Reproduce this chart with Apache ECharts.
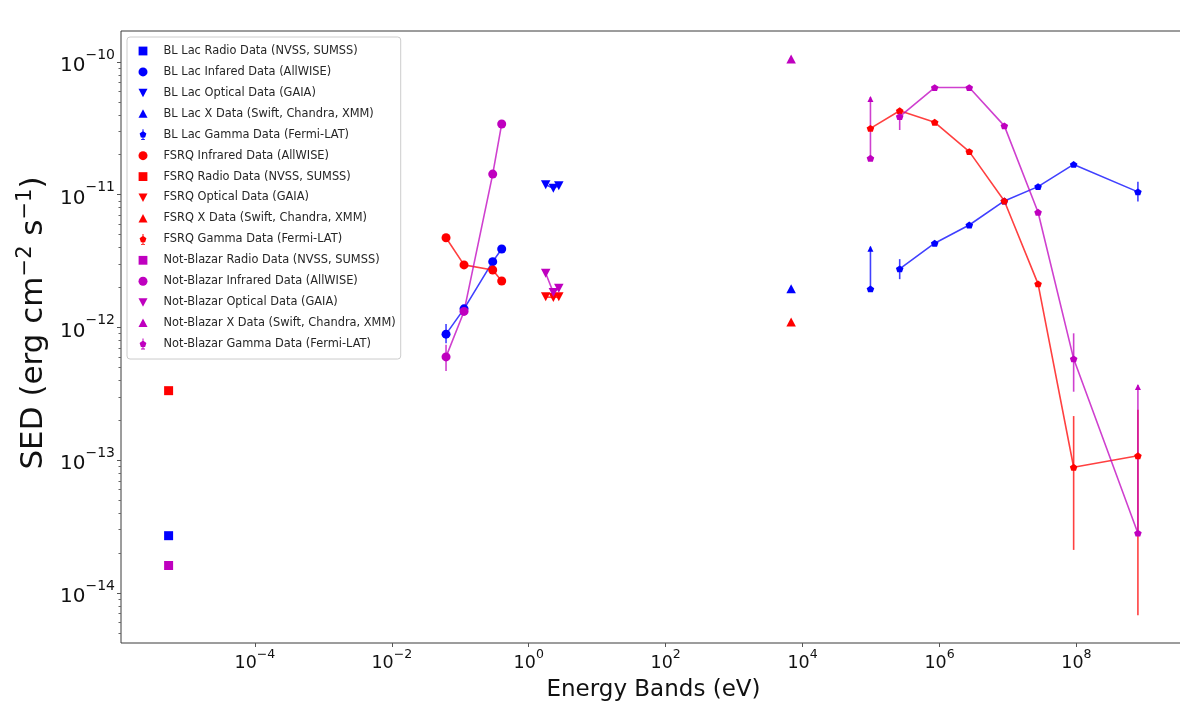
<!DOCTYPE html>
<html>
<head>
<meta charset="utf-8">
<script src="https://cdn.jsdelivr.net/npm/echarts@6/dist/echarts.min.js"></script>
<style>
  html, body { margin: 0; background: #fff; }
  #sed { width: 1180px; height: 712px; }
</style>
</head>
<body>
<div id="sed"></div>
<script>
// band energies (eV)
const radioE = [5.5e-6];
const irE = [0.062, 0.1135, 0.298, 0.403];
const optE = [1.77, 2.29, 2.75];
const xrayE = [6.8e3];
const gammaE = [9.8e4, 2.62e5, 8.5e5, 2.72e6, 8.85e6, 2.75e7, 9.1e7, 7.9e8];

// BL Lac
const blRadio = [2.7e-14];
const blIr = [8.9e-13, 1.38e-12, 3.13e-12, 3.9e-12];
const blOpt = [1.19e-11, 1.12e-11, 1.17e-11];
const blX = [1.96e-12];
const blGamma = [1.95e-12, 2.76e-12, 4.31e-12, 5.91e-12, 8.97e-12, 1.15e-11, 1.69e-11, 1.05e-11];

// FSRQ
const fsIr = [4.74e-12, 2.96e-12, 2.71e-12, 2.24e-12];
const fsRadio = [3.34e-13];
const fsOpt = [1.7e-12, 1.68e-12, 1.7e-12];
const fsX = [1.1e-12];
const fsGamma = [3.16e-11, 4.29e-11, 3.51e-11, 2.11e-11, 8.97e-12, 2.13e-12, 8.85e-14, 1.08e-13];

// Not-Blazar
const nbRadio = [1.61e-14];
const nbIr = [6.0e-13, 1.32e-12, 1.43e-11, 3.41e-11];
const nbOpt = [2.56e-12, 1.83e-12, 1.97e-12];
const nbX = [1.05e-10];
const nbGamma = [1.88e-11, 3.87e-11, 6.41e-11, 6.41e-11, 3.3e-11, 7.38e-12, 5.8e-13, 2.82e-14];

// error bars: [energy, low, high, lower limit arrow]
const blIrErr = [[0.062, 7.6e-13, 1.06e-12, 0]];
const blGammaErr = [[9.8e4, 1.95e-12, 4.06e-12, 1], [2.62e5, 2.31e-12, 3.27e-12, 0], [7.9e8, 8.87e-12, 1.25e-11, 0]];
const fsGammaErr = [[9.1e7, 2.11e-14, 2.15e-13, 0], [7.9e8, 6.8e-15, 2.4e-13, 0]];
const nbIrErr = [[0.062, 4.7e-13, 7.4e-13, 0]];
const nbGammaErr = [[9.8e4, 1.88e-11, 5.45e-11, 1], [2.62e5, 3.07e-11, 4.35e-11, 0], [9.1e7, 3.28e-13, 9.03e-13, 0], [7.9e8, 2.82e-14, 3.69e-13, 1]];

// axis ticks
const xTicks = [1e-4, 1e-2, 1e0, 1e2, 1e4, 1e6, 1e8];
const yTicks = [1e-14, 1e-13, 1e-12, 1e-11, 1e-10];
const yMinor = [];
[-15, -14, -13, -12, -11, -10].forEach(function (d) {
  for (let m = 2; m <= 9; m++) yMinor.push(m * Math.pow(10, d));
});

const BLUE = '#0000ff', RED = '#ff0000', MAG = '#bf00bf';

const PENT = 'path://M0 -1L0.951 -0.309L0.588 0.809L-0.588 0.809L-0.951 -0.309Z';
const VTRI = 'path://M-1 -1L1 -1L0 1Z';

// legend icons, drawn in a 12x12 box
const icons = {
  radio: 'path://M0 0M12 12M1.6 1.6H10.4V10.4H1.6Z',
  ir: 'path://M0 0M12 12M1.5 6A4.5 4.5 0 1 0 10.5 6A4.5 4.5 0 1 0 1.5 6Z',
  opt: 'path://M0 0M12 12M1.5 2H10.5L6 10.5Z',
  xray: 'path://M0 0M12 12M6 1.5L10.5 10H1.5Z',
  gamma: 'path://M0 0M12 12M6 2.4L9.4 4.9L8.1 8.9L3.9 8.9L2.6 4.9Z' +
    'M5.5 0.6H6.5V11.4H5.5Z M4 10.6H8V11.4H4Z'
};

const pairs = (xs, ys) => ys.map((y, i) => [xs[i], y]);
const sup = (e) => (e < 0 ? '\u2212' + (-e) : String(e));
const powLabel = (v) => '{b|10}{s|' + sup(Math.round(Math.log10(v))) + '}';

function lineSeries(name, color, data, symbol, size) {
  return {
    name, type: 'line', data, symbol, symbolSize: size, symbolKeepAspect: true,
    showSymbol: true, itemStyle: { color, opacity: 1 },
    lineStyle: { color, width: 1.6, opacity: 0.75 }, emphasis: { disabled: true }
  };
}

function dotSeries(name, color, data, symbol, size) {
  return {
    name, type: 'scatter', data, symbol, symbolSize: size, symbolKeepAspect: true,
    itemStyle: { color, opacity: 1 }, emphasis: { disabled: true }
  };
}

function errSeries(name, color, rows) {
  return {
    name, type: 'custom', data: rows, encode: { x: 0, y: [1, 2] }, silent: true,
    renderItem(params, api) {
      const lo = api.coord([api.value(0), api.value(1)]);
      const hi = api.coord([api.value(0), api.value(2)]);
      const kids = [{
        type: 'line',
        shape: { x1: lo[0], y1: lo[1], x2: hi[0], y2: hi[1] },
        style: { stroke: color, lineWidth: 1.6, opacity: 0.75 }
      }];
      if (api.value(3)) {
        kids.push({
          type: 'polygon',
          shape: { points: [[hi[0], hi[1] - 1], [hi[0] - 3, hi[1] + 5], [hi[0] + 3, hi[1] + 5]] },
          style: { fill: color }
        });
      }
      return { type: 'group', children: kids };
    }
  };
}

const N = {
  blR: 'BL Lac Radio Data (NVSS, SUMSS)',
  blI: 'BL Lac Infared Data (AllWISE)',
  blO: 'BL Lac Optical Data (GAIA)',
  blX: 'BL Lac X Data (Swift, Chandra, XMM)',
  blG: 'BL Lac Gamma Data (Fermi-LAT)',
  fsI: 'FSRQ Infrared Data (AllWISE)',
  fsR: 'FSRQ Radio Data (NVSS, SUMSS)',
  fsO: 'FSRQ Optical Data (GAIA)',
  fsX: 'FSRQ X Data (Swift, Chandra, XMM)',
  fsG: 'FSRQ Gamma Data (Fermi-LAT)',
  nbR: 'Not-Blazar Radio Data (NVSS, SUMSS)',
  nbI: 'Not-Blazar Infrared Data (AllWISE)',
  nbO: 'Not-Blazar Optical Data (GAIA)',
  nbX: 'Not-Blazar X Data (Swift, Chandra, XMM)',
  nbG: 'Not-Blazar Gamma Data (Fermi-LAT)'
};

const legendItems = [
  [N.blR, 'radio', BLUE], [N.blI, 'ir', BLUE], [N.blO, 'opt', BLUE], [N.blX, 'xray', BLUE], [N.blG, 'gamma', BLUE],
  [N.fsI, 'ir', RED], [N.fsR, 'radio', RED], [N.fsO, 'opt', RED], [N.fsX, 'xray', RED], [N.fsG, 'gamma', RED],
  [N.nbR, 'radio', MAG], [N.nbI, 'ir', MAG], [N.nbO, 'opt', MAG], [N.nbX, 'xray', MAG], [N.nbG, 'gamma', MAG]
].map(([name, kind, color]) => ({ name, icon: icons[kind], itemStyle: { color } }));

const SQ = 9, CIR = 9, TRI = [9.5, 9], PEN = [7.6, 7.2];

const series = [
  dotSeries(N.blR, BLUE, pairs(radioE, blRadio), 'rect', SQ),
  errSeries(N.blI, BLUE, blIrErr),
  lineSeries(N.blI, BLUE, pairs(irE, blIr), 'circle', CIR),
  lineSeries(N.blO, BLUE, pairs(optE, blOpt), VTRI, TRI),
  dotSeries(N.blX, BLUE, pairs(xrayE, blX), 'triangle', TRI),
  errSeries(N.blG, BLUE, blGammaErr),
  dotSeries(N.blG, BLUE, pairs(gammaE, blGamma).slice(0, 1), PENT, PEN),
  lineSeries(N.blG, BLUE, pairs(gammaE, blGamma).slice(1), PENT, PEN),

  lineSeries(N.fsI, RED, pairs(irE, fsIr), 'circle', CIR),
  dotSeries(N.fsR, RED, pairs(radioE, fsRadio), 'rect', SQ),
  lineSeries(N.fsO, RED, pairs(optE, fsOpt), VTRI, TRI),
  dotSeries(N.fsX, RED, pairs(xrayE, fsX), 'triangle', TRI),
  errSeries(N.fsG, RED, fsGammaErr),
  lineSeries(N.fsG, RED, pairs(gammaE, fsGamma), PENT, PEN),

  dotSeries(N.nbR, MAG, pairs(radioE, nbRadio), 'rect', SQ),
  errSeries(N.nbI, MAG, nbIrErr),
  lineSeries(N.nbI, MAG, pairs(irE, nbIr), 'circle', CIR),
  lineSeries(N.nbO, MAG, pairs(optE, nbOpt), VTRI, TRI),
  dotSeries(N.nbX, MAG, pairs(xrayE, nbX), 'triangle', TRI),
  errSeries(N.nbG, MAG, nbGammaErr),
  dotSeries(N.nbG, MAG, pairs(gammaE, nbGamma).slice(0, 1), PENT, PEN),
  lineSeries(N.nbG, MAG, pairs(gammaE, nbGamma).slice(1), PENT, PEN)
];

const X_MIN = Math.pow(10, -5.955), X_MAX = Math.pow(10, 9.6);
const Y_MIN = Math.pow(10, -14.377), Y_MAX = Math.pow(10, -9.767);

const chart = echarts.init(document.getElementById('sed'), null, { renderer: 'canvas' });
chart.setOption({
  animation: false,
  backgroundColor: '#fff',
  textStyle: { fontFamily: 'DejaVu Sans' },
  // the right edge of the axes box lies just past the picture
  grid: {
    left: 121, top: 31, width: 1065, bottom: 69, outerBoundsMode: 'none',
    show: true, borderColor: '#3a3a3a', borderWidth: 1, backgroundColor: 'transparent'
  },
  legend: {
    orient: 'vertical', left: 127, top: 37,
    padding: [8, 5, 9, 10], itemWidth: 31, itemHeight: 12, itemGap: 8.93,
    backgroundColor: 'rgba(255,255,255,0.85)', borderColor: '#cccccc', borderWidth: 1, borderRadius: 3,
    textStyle: { fontFamily: 'DejaVu Sans', fontSize: 11.4, color: '#262626' },
    selectedMode: false,
    data: legendItems
  },
  xAxis: {
    type: 'log', logBase: 10, min: X_MIN, max: X_MAX,
    name: 'Energy Bands (eV)', nameLocation: 'middle', nameGap: 36,
    nameTextStyle: { fontSize: 23, color: '#111', fontFamily: 'DejaVu Sans' },
    axisLine: { show: false },
    splitLine: { show: false },
    axisTick: { customValues: xTicks, length: 4, lineStyle: { color: '#555' } },
    axisLabel: {
      customValues: xTicks, margin: 5, formatter: powLabel, color: '#111',
      rich: {
        b: { fontSize: 17.5, lineHeight: 24, verticalAlign: 'bottom', color: '#111' },
        s: { fontSize: 12.5, lineHeight: 13, verticalAlign: 'top', color: '#111' }
      }
    }
  },
  yAxis: [{
    type: 'log', logBase: 10, min: Y_MIN, max: Y_MAX,
    name: '{a|SED (erg cm}{s|\u22122}{a| s}{s|\u22121}{a|)}',
    nameLocation: 'middle', nameGap: 57,
    nameTextStyle: {
      color: '#111', padding: [0, 0, 0, 28],
      rich: {
        a: { fontSize: 31, lineHeight: 34, verticalAlign: 'bottom', color: '#111' },
        s: { fontSize: 21, lineHeight: 24, verticalAlign: 'top', color: '#111' }
      }
    },
    axisLine: { show: false },
    splitLine: { show: false },
    axisTick: { customValues: yTicks, length: 4, lineStyle: { color: '#555' } },
    axisLabel: {
      customValues: yTicks, margin: 6, formatter: powLabel, color: '#111',
      rich: {
        b: { fontSize: 20, lineHeight: 28, verticalAlign: 'bottom', color: '#111' },
        s: { fontSize: 14, lineHeight: 14, verticalAlign: 'top', color: '#111' }
      }
    }
  }, {
    type: 'log', logBase: 10, min: Y_MIN, max: Y_MAX, position: 'left',
    axisLine: { show: false }, splitLine: { show: false }, axisLabel: { show: false },
    axisTick: { customValues: yMinor, length: 2.5, lineStyle: { color: '#666' } }
  }],
  series: series
});
</script>
</body>
</html>
